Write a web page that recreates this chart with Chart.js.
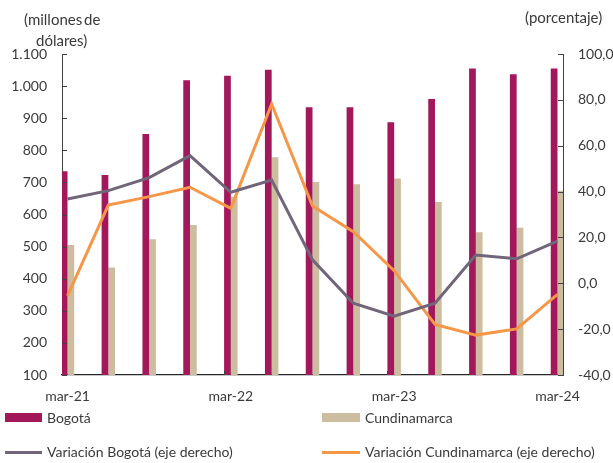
<!DOCTYPE html>
<html>
<head>
<meta charset="utf-8">
<script src="https://cdn.jsdelivr.net/npm/chart.js@4"></script>
<style>
  html, body { margin: 0; padding: 0; background: #fff; }
  #wrap { position: relative; width: 613px; height: 463px; overflow: hidden; font-family: Lato, "Open Sans", sans-serif; color: #3a3a3a; }
  canvas { position: absolute; left: 0; top: 0; }
  .t { position: absolute; font-size: 14px; line-height: 16px; white-space: nowrap; }
  .sw { position: absolute; }
</style>
</head>
<body>
<div id="wrap">
  <canvas id="c" width="613" height="463"></canvas>
  <div class="t" style="left:24px; top:11px; font-size:15px; word-spacing:-2px;">(millones de</div>
  <div class="t" style="left:36px; top:32px; font-size:15px;">dólares)</div>
  <div class="t" style="left:525px; top:9px; font-size:15px;">(porcentaje)</div>

  <div class="sw" style="left:5px; top:413px; width:37px; height:9px; background:#A2185B;"></div>
  <div class="t" style="left:47px; top:410px;">Bogotá</div>
  <div class="sw" style="left:322px; top:413px; width:38px; height:9px; background:#CDBDA0;"></div>
  <div class="t" style="left:365px; top:410px;">Cundinamarca</div>

  <div class="sw" style="left:5px; top:451px; width:37px; height:3px; background:#716579;"></div>
  <div class="t" style="left:47px; top:444px;">Variación Bogotá (eje derecho)</div>
  <div class="sw" style="left:322px; top:451px; width:38px; height:3px; background:#F79646;"></div>
  <div class="t" style="left:365px; top:444px;">Variación Cundinamarca (eje derecho)</div>
</div>
<script>
const categories = ['mar-21','jun-21','sep-21','dic-21','mar-22','jun-22','sep-22','dic-22','mar-23','jun-23','sep-23','dic-23','mar-24'];
const bogota = [735, 723, 851, 1018, 1032, 1051, 934, 934, 887, 960, 1055, 1037, 1055];
const cundinamarca = [505, 435, 523, 567, 655, 778, 701, 694, 712, 639, 545, 559, 674];
const varBogota = [36.8, 40.4, 46.1, 55.7, 39.7, 45.0, 10.2, -8.7, -14.3, -8.7, 12.3, 10.7, 18.4];
const varCundinamarca = [-5.5, 34.1, 37.8, 41.9, 32.7, 78.2, 33.7, 22.5, 5.5, -17.9, -22.6, -19.9, -4.8];
const leftTicks = [100, 200, 300, 400, 500, 600, 700, 800, 900, 1000, 1100];
const rightTicks = [-40, -20, 0, 20, 40, 60, 80, 100];

const pts = arr => arr.map((v, i) => ({x: i, y: v}));
const fmtLeft = v => v >= 1000 ? Math.floor(v / 1000) + '.' + String(v % 1000).padStart(3, '0') : String(v);
const fmtRight = v => v.toFixed(1).replace('.', ',');

const innerTicks = {
  id: 'innerTicks',
  afterDatasetsDraw(chart) {
    const {ctx, chartArea, scales} = chart;
    ctx.save();
    ctx.strokeStyle = '#404040';
    ctx.lineWidth = 1;
    ctx.beginPath();
    leftTicks.forEach(v => {
      const y = Math.round(scales.y.getPixelForValue(v)) + 0.5;
      ctx.moveTo(chartArea.left, y); ctx.lineTo(chartArea.left + 5, y);
    });
    rightTicks.forEach(v => {
      const y = Math.round(scales.y1.getPixelForValue(v)) + 0.5;
      ctx.moveTo(chartArea.right, y); ctx.lineTo(chartArea.right - 5, y);
    });
    categories.forEach((c, i) => {
      if (i > 0 && c.startsWith('mar')) {
        const x = Math.round(scales.x.getPixelForValue(i - 0.17)) + 0.5;
        ctx.moveTo(x, chartArea.bottom); ctx.lineTo(x, chartArea.bottom - 4);
      }
    });
    ctx.stroke();
    ctx.restore();
  }
};

const tickFont = {family: 'Lato, "Open Sans", sans-serif', size: 14};

new Chart(document.getElementById('c'), {
  type: 'bar',
  data: {
    datasets: [
      {type: 'line', label: 'Variación Bogotá (eje derecho)', data: pts(varBogota), yAxisID: 'y1', borderColor: '#716579', borderWidth: 3, pointRadius: 0, tension: 0, order: 0},
      {type: 'line', label: 'Variación Cundinamarca (eje derecho)', data: pts(varCundinamarca), yAxisID: 'y1', borderColor: '#F79646', borderWidth: 3, pointRadius: 0, tension: 0, order: 0},
      {label: 'Bogotá', data: pts(bogota), yAxisID: 'y', backgroundColor: '#A2185B', barPercentage: 1, categoryPercentage: 0.33, order: 1},
      {label: 'Cundinamarca', data: pts(cundinamarca), yAxisID: 'y', backgroundColor: '#CDBDA0', barPercentage: 1, categoryPercentage: 0.33, order: 1}
    ]
  },
  options: {
    responsive: false,
    animation: false,
    devicePixelRatio: 1,
    layout: {padding: {top: 54, left: 0, right: 0, bottom: 0}},
    plugins: {legend: {display: false}, tooltip: {enabled: false}},
    scales: {
      x: {
        type: 'linear',
        offset: false,
        min: -0.135, max: 12.135,
        afterFit: s => { s.height = 88; },
        afterBuildTicks: s => { s.ticks = categories.map((c, i) => ({value: i})); },
        grid: {display: false, drawTicks: false},
        border: {display: true, color: '#262626', width: 1.2},
        ticks: {
          autoSkip: false, maxRotation: 0, padding: 13,
          color: '#3a3a3a', font: tickFont,
          callback: v => (categories[v] && categories[v].startsWith('mar')) ? categories[v] : ''
        }
      },
      y: {
        position: 'left',
        min: 100, max: 1100,
        afterFit: s => { s.width = 62; },
        grid: {display: false, drawTicks: false},
        border: {display: true, color: '#404040', width: 1},
        ticks: {stepSize: 100, padding: 15, color: '#3a3a3a', font: tickFont, callback: v => fmtLeft(v)}
      },
      y1: {
        position: 'right',
        min: -40, max: 100,
        afterFit: s => { s.width = 50; },
        grid: {display: false, drawTicks: false},
        border: {display: true, color: '#404040', width: 1},
        ticks: {stepSize: 20, padding: 15, color: '#3a3a3a', font: tickFont, callback: v => fmtRight(v)}
      }
    }
  },
  plugins: [innerTicks]
});
</script>
</body>
</html>
